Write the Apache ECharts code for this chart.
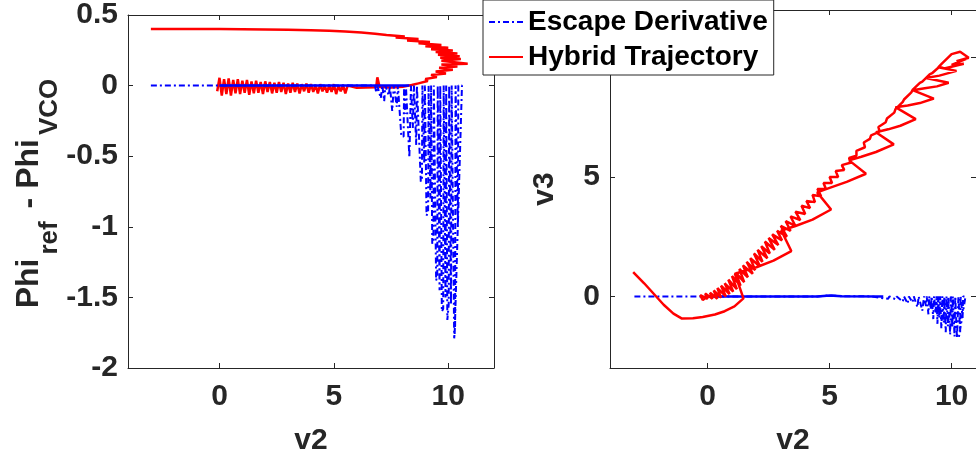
<!DOCTYPE html>
<html>
<head>
<meta charset="utf-8">
<script src="https://cdn.jsdelivr.net/npm/echarts@6/dist/echarts.min.js"></script>
<style>
  html, body { margin: 0; padding: 0; background: #fff; }
  #chart { width: 976px; height: 461px; }
</style>
</head>
<body>
<div id="chart"></div>
<script>
// left panel: Phi_ref - Phi_VCO vs v2
const hybLX = [-3.0, -2.0, -1.0, 0.0, 1.0, 2.0, 3.0, 4.0, 4.8, 5.5, 6.2, 6.8, 7.3,
  8.1, 7.7, 8.7, 8.2, 9.2, 8.7, 9.7, 9.0, 10.0, 9.25, 10.2, 9.45, 10.4, 9.55, 10.5, 9.65, 10.55, 9.7,
  10.85, 9.7, 10.4, 9.6, 10.2, 9.45, 9.9, 9.25, 9.5, 9.0, 9.1, 8.7, 8.4,
  8.0, 7.5, 7.0, 6.9, 6.85, 6.4, 6.0,
  5.6, 5.5, 5.4, 5.3, 5.2, 5.1, 5.0, 4.9, 4.8, 4.7, 4.6, 4.5, 4.4, 4.3, 4.2, 4.1, 4.0, 3.9, 3.8, 3.7,
  3.6, 3.5, 3.4, 3.3, 3.2, 3.1, 3.0, 2.9, 2.8, 2.7, 2.6, 2.5, 2.4, 2.3, 2.2, 2.1, 2.0, 1.9, 1.8, 1.7,
  1.6, 1.5, 1.4, 1.3, 1.2, 1.1, 1.0, 0.9, 0.8, 0.7, 0.6, 0.5, 0.4, 0.3, 0.2, 0.1, 0.0, -0.1];
const hybLY = [0.400, 0.400, 0.400, 0.400, 0.399, 0.398, 0.396, 0.392, 0.388, 0.383, 0.376, 0.368, 0.358,
  0.347, 0.340, 0.330, 0.320, 0.308, 0.300, 0.288, 0.278, 0.268, 0.258, 0.248, 0.238, 0.228, 0.218, 0.208, 0.198, 0.188, 0.176,
  0.155, 0.150, 0.136, 0.126, 0.112, 0.100, 0.086, 0.075, 0.060, 0.046, 0.032, 0.016, 0.004,
  -0.008, -0.014, -0.010, 0.058, -0.012, -0.014, -0.016,
  0.0, -0.055, 0.005, -0.04, 0.0, -0.06, 0.01, -0.045, 0.005, -0.05, 0.0, -0.04, 0.01, -0.055, 0.005, -0.045, 0.01, -0.05, 0.015, -0.04,
  0.01, -0.055, 0.015, -0.045, 0.02, -0.05, 0.015, -0.06, 0.02, -0.045, 0.025, -0.05, 0.02, -0.055, 0.025, -0.045, 0.03, -0.06, 0.025, -0.05,
  0.035, -0.055, 0.03, -0.065, 0.04, -0.05, 0.035, -0.06, 0.045, -0.055, 0.04, -0.07, 0.05, -0.06, 0.045, -0.07, 0.055, -0.04];

const escLX = [-3.0, 6.8, 6.85, 6.9, 7.05, 7.1, 7.12, 7.2, 7.25, 7.4, 7.45, 7.55, 7.6, 7.62, 7.75, 7.8,
  7.95, 8.05, 8.07, 8.12, 8.15, 8.3, 8.35, 8.37, 8.45, 8.5, 8.6, 8.63, 8.8, 8.85, 8.87, 8.95, 8.98,
  9.05, 9.12, 9.14, 9.22, 9.25, 9.3, 9.35, 9.37, 9.47, 9.52, 9.54, 9.62, 9.65,
  9.72, 9.78, 9.8, 9.88, 9.91, 9.96, 10.02, 10.04, 10.12, 10.15,
  10.26, 10.3, 10.32, 10.42, 10.44, 10.6, 10.28];
const escLY = [0, 0, -0.05, 0, -0.09, -0.09, 0, -0.11, 0, -0.07, 0, -0.18, -0.17, 0, -0.15, 0,
  -0.36, -0.36, 0, -0.2, 0, -0.51, -0.5, 0, -0.3, 0, -0.42, 0, -0.68, -0.66, 0, -0.55, 0,
  -0.92, -0.9, 0, -0.8, 0, -1.12, -1.1, 0, -1.38, -1.35, 0, -1.45, 0,
  -1.6, -1.58, 0, -1.5, 0, -1.66, -1.55, 0, -1.55, 0,
  -1.79, -1.7, 0, -1.0, 0, 0, -1.76];
// dense overlapping part of the escape trace, drawn solid
const escLSolidX = [0.0, 8.3];
const escLSolidY = [0, 0];

// right panel: v3 vs v2
const hybRX = [-3.05, -2.6, -2.2, -1.8, -1.4, -1.05, -0.6, -0.2, 0.3, 0.7, 1.1, 1.47,
  1.12, 2.0, 2.7, 3.43, 3.02, 3.6, 4.3, 5.06, 4.49, 5.0, 5.7, 6.49, 5.8, 6.3, 6.9, 7.63,
  6.9, 7.4, 7.9, 8.53, 7.7, 8.2, 8.7, 9.27, 8.4, 8.9, 9.4, 9.88, 8.95, 9.5, 10.2, 9.45,
  9.6, 10.0, 10.35, 10.7, 10.2, 10.6, 10.0, 10.5, 9.7,
  9.5, 9.2, 9.1, 8.8, 8.7, 8.4, 8.35, 8.05, 8.0, 7.7, 7.65, 7.35, 7.3, 7.0, 7.05, 6.7, 6.65, 6.4, 6.45,
  6.1, 6.1, 5.8, 5.85, 5.5, 5.6, 5.25, 5.35, 5.0, 5.1, 4.75, 4.85, 4.5, 4.65, 4.3, 4.4, 4.05, 4.2,
  3.85, 4.0, 3.6, 3.8, 3.4, 3.6, 3.2, 3.4, 3.0, 3.25, 2.85, 3.05, 2.65, 2.9, 2.5, 2.75, 2.35, 2.55,
  2.2, 2.45, 2.05, 2.25, 1.9, 2.15, 1.75, 1.95, 1.6, 1.85, 1.45, 1.65, 1.3, 1.5, 1.15, 1.35, 1.0,
  1.2, 0.85, 1.05, 0.7, 0.9, 0.55, 0.75, 0.4, 0.55, 0.25, 0.4, 0.1, 0.2, -0.1, 0.0, -0.3, -0.2, 0.0];
const hybRY = [1.02, 0.55, 0.1, -0.35, -0.72, -0.93, -0.92, -0.86, -0.76, -0.62, -0.42, -0.08,
  0.95, 1.22, 1.5, 1.9, 2.76, 2.95, 3.22, 3.64, 4.36, 4.55, 4.8, 5.14, 5.7, 5.85, 6.05, 6.37,
  6.88, 7.0, 7.15, 7.43, 7.93, 8.0, 8.1, 8.29, 8.64, 8.72, 8.8, 8.95, 9.15, 9.25, 9.45, 9.6,
  9.75, 10.15, 10.25, 10.0, 9.85, 9.95, 9.7, 9.75, 9.55,
  9.62, 9.35, 9.3, 9.0, 8.95, 8.65, 8.55, 8.25, 8.15, 7.85, 7.7, 7.45, 7.3, 7.1, 6.9, 6.75, 6.6, 6.45, 6.25,
  6.1, 5.9, 5.8, 5.6, 5.5, 5.3, 5.25, 5.0, 5.0, 4.75, 4.75, 4.5, 4.5, 4.2, 4.25, 3.95, 4.0, 3.7,
  3.8, 3.45, 3.55, 3.2, 3.35, 2.95, 3.15, 2.75, 2.95, 2.5, 2.75, 2.35, 2.6, 2.15, 2.45, 1.95, 2.3, 1.8,
  2.1, 1.6, 1.95, 1.45, 1.8, 1.25, 1.6, 1.1, 1.45, 0.95, 1.3, 0.8, 1.15, 0.6, 1.0, 0.45, 0.85,
  0.3, 0.7, 0.2, 0.55, 0.1, 0.45, 0.0, 0.35, -0.05, 0.25, -0.1, 0.15, -0.1, 0.12, -0.1, 0.05, -0.15, 0.0];

const escRX = [-3.0, 4.5, 5.0, 5.5, 6.7, 7.0, 7.05, 7.4, 7.45, 7.7, 7.75, 8.0, 8.05, 8.2, 8.25, 8.4, 8.45,
  8.6, 8.65, 8.8, 8.85, 8.87, 8.95, 8.98, 9.05, 9.08, 9.15, 9.18, 9.25, 9.28, 9.35, 9.38, 9.42, 9.45,
  9.5, 9.53, 9.58, 9.6, 9.62, 9.68, 9.7, 9.76, 9.79, 9.85, 9.87, 9.94, 9.97, 10.03, 10.05, 10.12, 10.15,
  10.22, 10.26, 10.28, 10.35, 10.37, 10.45, 10.47, 10.57, 10.3];
const escRY = [0, 0, 0.04, 0.01, 0, -0.05, 0, -0.1, 0, -0.12, 0, -0.22, 0, -0.3, 0, -0.25, 0,
  -0.45, 0, -0.6, -0.55, 0, -0.4, 0, -0.75, 0, -0.55, 0, -0.95, 0, -0.7, 0, -1.15, 0,
  -0.9, 0, -1.35, -1.3, 0, -1.1, 0, -1.5, 0, -1.25, 0, -1.6, 0, -1.3, 0, -1.68, 0,
  -1.75, -1.74, 0, -1.5, 0, -0.9, 0, 0, -1.7];
const escRSolidX = [-0.1, 4.5, 5.0, 5.5, 7.2];
const escRSolidY = [0, 0, 0.04, 0.01, 0];

const leftXTicks = [0, 5, 10];
const rightXTicks = [0, 5, 10];
const rightYTicks = [0, 5, 10];

const FONT = '"Liberation Sans", Arial, Helvetica, sans-serif';
const INK = '#262626';
const BLUE = '#0000ff';
const RED = '#ff0000';
const DASHDOT = [6, 3, 2, 3];

const pairs = (xs, ys) => xs.map((x, i) => [x, ys[i]]);

const labelStyle = { fontSize: 30, fontWeight: 'bold', color: INK, fontFamily: FONT };

function axis(gridIndex, position, min, max, extra) {
  return Object.assign({
    type: 'value',
    gridIndex: gridIndex,
    position: position,
    min: min,
    max: max,
    axisLine: { show: true, onZero: false, lineStyle: { color: INK, width: 1 } },
    axisTick: { show: true, inside: true, length: 5, lineStyle: { color: INK, width: 1 } },
    axisLabel: { show: false },
    splitLine: { show: false },
  }, extra);
}

function ticksAt(values) {
  return { show: true, inside: true, length: 5, customValues: values, lineStyle: { color: INK } };
}

function line(name, xi, z, xs, ys, color, width, type) {
  return {
    name: name, type: 'line', xAxisIndex: xi, yAxisIndex: xi, z: z,
    symbol: 'none', data: pairs(xs, ys),
    lineStyle: { color: color, width: width, type: type || 'solid' },
    itemStyle: { color: color },
  };
}

const chart = echarts.init(document.getElementById('chart'));

chart.setOption({
  animation: false,
  backgroundColor: '#fff',
  grid: [
    { left: 128, top: 10, width: 366, height: 358 },
    { left: 610, top: 10, width: 368, height: 358 },
  ],
  legend: {
    orient: 'vertical',
    left: 483,
    top: 0,
    padding: [8, 6, 4, 5],
    itemGap: 7,
    itemWidth: 34,
    itemHeight: 14,
    backgroundColor: '#fff',
    borderColor: INK,
    borderWidth: 1,
    itemStyle: { opacity: 0 },
    textStyle: { fontSize: 28, fontWeight: 'bold', color: '#000', fontFamily: FONT },
    data: ['Escape Derivative', 'Hybrid Trajectory'],
  },
  xAxis: [
    axis(0, 'bottom', -4, 12, {
      axisTick: ticksAt(leftXTicks),
      axisLabel: Object.assign({ show: true, margin: 14, customValues: leftXTicks }, labelStyle),
      name: 'v2', nameLocation: 'middle', nameGap: 58, nameTextStyle: labelStyle,
    }),
    axis(0, 'top', -4, 12, { axisTick: ticksAt(leftXTicks) }),
    axis(1, 'bottom', -4, 11, {
      axisTick: ticksAt(rightXTicks),
      axisLabel: Object.assign({ show: true, margin: 14, customValues: rightXTicks }, labelStyle),
      name: 'v2', nameLocation: 'middle', nameGap: 58, nameTextStyle: labelStyle,
    }),
    axis(1, 'top', -4, 11, { axisTick: ticksAt(rightXTicks) }),
  ],
  yAxis: [
    axis(0, 'left', -2, 0.5, {
      interval: 0.5,
      axisLabel: Object.assign({ show: true, margin: 10, showMinLabel: true, showMaxLabel: true }, labelStyle),
      name: '{m|Phi}{s|ref}{m| - Phi}{s|VCO}',
      nameLocation: 'middle',
      nameGap: 71,
      nameTextStyle: {
        rich: {
          m: { fontSize: 32, fontWeight: 'bold', color: INK, fontFamily: FONT, lineHeight: 32, padding: [0, 0, 17, 0] },
          s: { fontSize: 26, fontWeight: 'bold', color: INK, fontFamily: FONT, lineHeight: 26, padding: [23, 4, 0, 4] },
        },
      },
    }),
    axis(0, 'right', -2, 0.5, { interval: 0.5 }),
    axis(1, 'left', -3, 12, {
      axisTick: ticksAt(rightYTicks),
      axisLabel: Object.assign({ show: true, margin: 10, customValues: rightYTicks }, labelStyle),
      name: 'v3', nameLocation: 'middle', nameGap: 50, nameTextStyle: labelStyle,
    }),
    axis(1, 'right', -3, 12, { axisTick: ticksAt(rightYTicks) }),
  ],
  series: [
    line('Hybrid Trajectory', 0, 2, hybLX, hybLY, RED, 2.5),
    line('Escape Derivative', 0, 3, escLX, escLY, BLUE, 2, DASHDOT),
    line('Escape Derivative', 0, 3, escLSolidX, escLSolidY, BLUE, 2.5),
    line('Escape Derivative', 2, 2, escRX, escRY, BLUE, 2, DASHDOT),
    line('Escape Derivative', 2, 2, escRSolidX, escRSolidY, BLUE, 2.5),
    line('Hybrid Trajectory', 2, 3, hybRX, hybRY, RED, 2.5),
  ],
});
</script>
</body>
</html>
